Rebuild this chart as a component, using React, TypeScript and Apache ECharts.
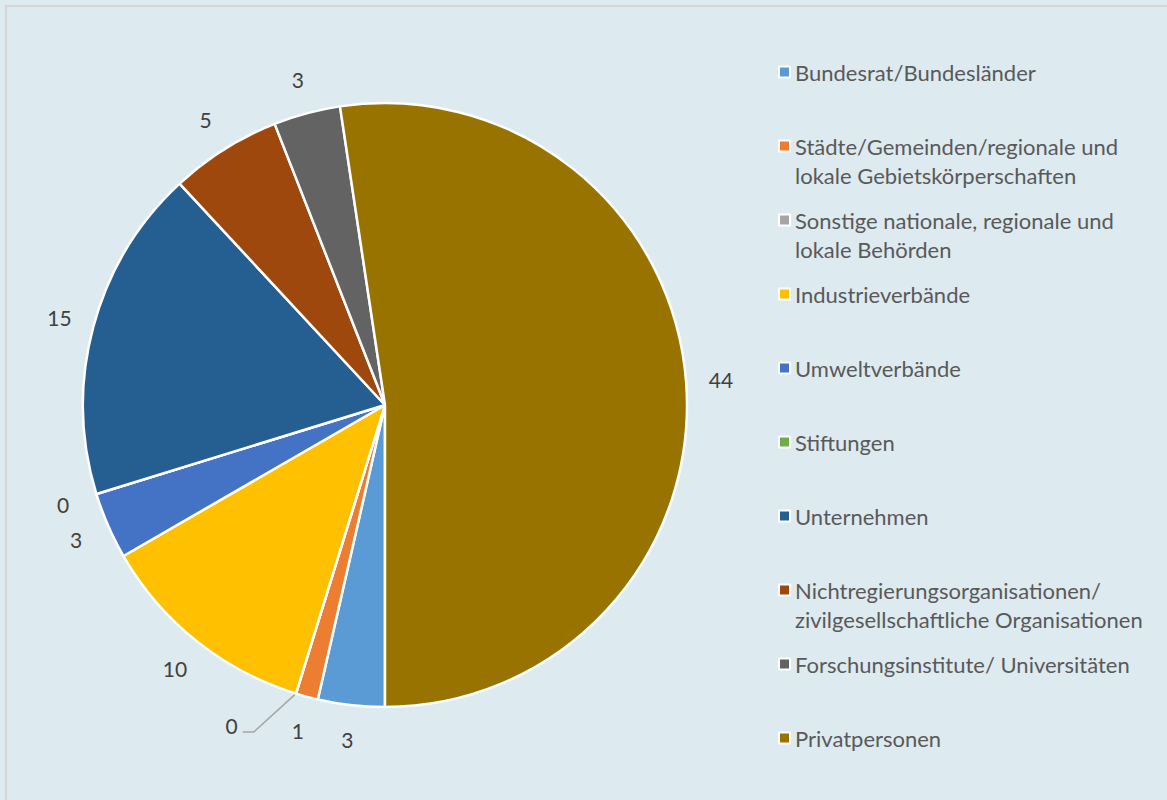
import React, { useEffect, useRef } from "react";
import * as echarts from "echarts";

const categories: string[] = [
  "Bundesrat/Bundesländer",
  "Städte/Gemeinden/regionale und lokale Gebietskörperschaften",
  "Sonstige nationale, regionale und lokale Behörden",
  "Industrieverbände",
  "Umweltverbände",
  "Stiftungen",
  "Unternehmen",
  "Nichtregierungsorganisationen/ zivilgesellschaftliche Organisationen",
  "Forschungsinstitute/ Universitäten",
  "Privatpersonen",
];

const legendLines: string[][] = [
  ["Bundesrat/Bundesländer"],
  ["Städte/Gemeinden/regionale und", "lokale Gebietskörperschaften"],
  ["Sonstige nationale, regionale und", "lokale Behörden"],
  ["Industrieverbände"],
  ["Umweltverbände"],
  ["Stiftungen"],
  ["Unternehmen"],
  ["Nichtregierungsorganisationen/", "zivilgesellschaftliche Organisationen"],
  ["Forschungsinstitute/ Universitäten"],
  ["Privatpersonen"],
];

const values: number[] = [3, 1, 0, 10, 3, 0, 15, 5, 3, 44];

const colors: string[] = [
  "#5B9BD5",
  "#ED7D31",
  "#A5A5A5",
  "#FFC000",
  "#4472C4",
  "#70AD47",
  "#255E91",
  "#9E480E",
  "#636363",
  "#997300",
];

const CX = 385;
const CY = 405;
const RADIUS = 302;
const LABEL_R = 337;
const FONT = "Lato, 'Open Sans', sans-serif";

export default function App() {
  const ref = useRef<HTMLDivElement>(null);

  useEffect(() => {
    if (!ref.current) return;
    const chart = echarts.init(ref.current, undefined, { renderer: "svg" });
    const total = values.reduce((a, b) => a + b, 0);
    const cum: number[] = [];
    let acc = 0;
    values.forEach((v) => {
      cum.push(acc);
      acc += v;
    });
    const midAngle = (i: number) => ((cum[i] + values[i] / 2) / total) * 2 * Math.PI;
    const pt = (a: number, r: number) => [CX - r * Math.sin(a), CY + r * Math.cos(a)];

    const option: any = {
      animation: false,
      backgroundColor: "#DDEAF0",
      graphic: [
        {
          type: "rect",
          z: -1,
          shape: { x: 6, y: 6, width: 1300, height: 1000 },
          style: { fill: "none", stroke: "#D6D6D6", lineWidth: 2 },
        },
      ],
      legend: categories.map((name, i) => {
        const lines = legendLines[i];
        const n = lines.length === 1 ? 1 : 3;
        return {
          data: [name],
          orient: "vertical",
          left: 778,
          top: 72 + 74 * i - (n * 29) / 2,
          padding: 0,
          icon: "rect",
          itemWidth: 11,
          itemHeight: 11,
          selectedMode: false,
          itemStyle: { borderColor: "#FFFFFF", borderWidth: 2 },
          textStyle: { color: "#595959", fontFamily: FONT, fontSize: 22, lineHeight: 29 },
          formatter: () => (lines.length === 1 ? lines[0] : "\n" + lines.join("\n")),
        };
      }),
      series: [
        {
          type: "pie",
          center: [CX, CY],
          radius: RADIUS,
          startAngle: -90,
          clockwise: true,
          avoidLabelOverlap: false,
          label: {
            show: true,
            position: "outside",
            formatter: "{c}",
            color: "#404040",
            fontFamily: FONT,
            fontSize: 21,
          },
          labelLine: { show: false },
          itemStyle: { borderColor: "#FFFFFF", borderWidth: 2.5 },
          emphasis: { disabled: true },
          data: values.map((v, i) => ({
            name: categories[i],
            value: v,
            itemStyle: { color: colors[i] },
            labelLine:
              i === 2
                ? { show: true, length: 10, length2: 10, lineStyle: { color: "#A6A6A6", width: 1.5 } }
                : { show: false },
          })),
          labelLayout: (p: any) => {
            const i = p.dataIndex;
            const a = midAngle(i);
            let [x, y] = pt(a, LABEL_R);
            if (i === 2) {
              x -= 54;
              y -= 2;
              const e = pt(a, RADIUS);
              return {
                x,
                y,
                align: "center",
                verticalAlign: "middle",
                labelLinePoints: [
                  [e[0], e[1]],
                  [x + 22, y + 7],
                  [x + 11, y + 7],
                ],
              };
            }
            return { x, y, align: "center", verticalAlign: "middle" };
          },
        },
      ],
    };
    chart.setOption(option);
    return () => chart.dispose();
  }, []);

  return (
    <div
      ref={ref}
      style={{ position: "absolute", left: 0, top: 0, width: 1167, height: 800 }}
    />
  );
}
